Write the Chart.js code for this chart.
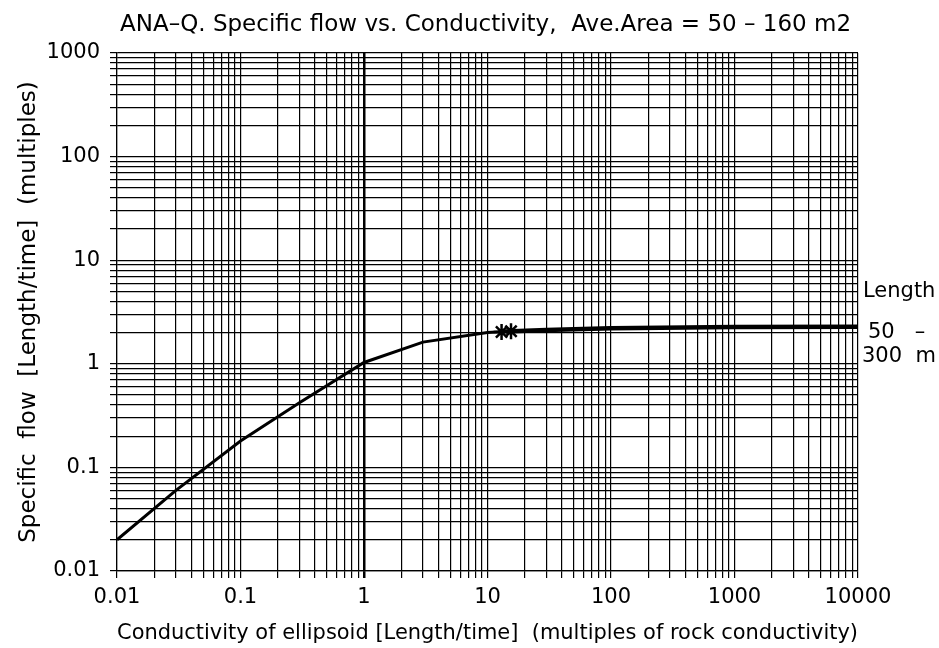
<!DOCTYPE html>
<html>
<head>
<meta charset="utf-8">
<script src="https://cdn.jsdelivr.net/npm/chart.js@4.4.1/dist/chart.umd.min.js"></script>
<style>
  html, body { margin: 0; padding: 0; background: #fff; }
  #wrap { width: 939px; height: 648px; }
</style>
</head>
<body>
<div id="wrap"><canvas id="chart"></canvas></div>
<script>
// curve: conductivity (x) -> specific flow (y)
const condLow = [0.01, 0.03, 0.1, 0.3, 1, 3, 10, 14];
const flowLow = [0.02, 0.06, 0.18, 0.42, 1.03, 1.62, 2.0, 2.05];
const condHigh = [14, 30, 100, 1000, 10000];
const flowHigh = [2.05, 2.12, 2.2, 2.26, 2.28];
const starCond = [13, 15.5];
const starFlow = [2.03, 2.06];

// axes
const xDecades = [0.01, 0.1, 1, 10, 100, 1000, 10000];
const xLabels = ['0.01', '0.1', '1', '10', '100', '1000', '10000'];
const yDecades = [0.01, 0.1, 1, 10, 100, 1000];
const yLabels = ['0.01', '0.1', '1', '10', '100', '1000'];
const steps = [1, 2, 3, 4, 5, 6, 7, 8, 9];

const titleText = 'ANA\u2013Q. Specific flow vs. Conductivity,  Ave.Area = 50 \u2013 160 m2';
const xTitle = 'Conductivity of ellipsoid [Length/time]  (multiples of rock conductivity)';
const yTitle = 'Specific  flow  [Length/time]  (multiples)';
const sideNote = ['Length', '50   \u2013', '300  m'];

const FONT = 'DejaVu Sans';

function gridValues(decades) {
  const vals = [];
  decades.slice(0, -1).forEach(d => steps.forEach(s => vals.push(+(d * s).toPrecision(6))));
  vals.push(decades[decades.length - 1]);
  return vals;
}
const xGrid = gridValues(xDecades);
const yGrid = gridValues(yDecades);

function labelFor(value, decades, labels) {
  const i = decades.findIndex(d => Math.abs(d - value) / d < 1e-6);
  return i >= 0 ? labels[i] : '';
}

const pts = (xs, ys) => xs.map((x, i) => ({x: x, y: ys[i]}));

// title and the note at the right end of the curve
const textPlugin = {
  id: 'texts',
  afterDraw(chart) {
    const c = chart.ctx;
    c.save();
    c.fillStyle = '#000';
    c.textBaseline = 'alphabetic';
    c.textAlign = 'left';
    c.font = '23px "' + FONT + '"';
    c.fillText(titleText, 120, 31);
    c.font = '21px "' + FONT + '"';
    c.fillText(sideNote[0], 863, 297);
    c.fillText(sideNote[1], 868, 338);
    c.fillText(sideNote[2], 862, 362);
    c.restore();
  }
};

new Chart(document.getElementById('chart'), {
  type: 'line',
  data: {
    datasets: [
      {data: pts(condLow, flowLow), borderColor: '#000', borderWidth: 3, pointRadius: 0, tension: 0},
      {data: pts(condHigh, flowHigh), borderColor: '#000', borderWidth: 4.5, pointRadius: 0, tension: 0},
      {data: pts(starCond, starFlow), showLine: false, pointStyle: 'star', pointRadius: 8,
       borderColor: '#000', pointBorderWidth: 2.5, backgroundColor: '#000'}
    ]
  },
  options: {
    responsive: true,
    maintainAspectRatio: false,
    animation: false,
    layout: {padding: {top: 53, right: 81, bottom: 0, left: 0}},
    plugins: {legend: {display: false}, tooltip: {enabled: false}, title: {display: false}},
    scales: {
      x: {
        type: 'logarithmic',
        min: 0.01, max: 10000,
        afterBuildTicks: axis => { axis.ticks = xGrid.map(v => ({value: v})); },
        afterFit: scale => { scale.height = 77; },
        grid: {
          color: '#000',
          lineWidth: ctx => (ctx.tick && Math.abs(ctx.tick.value - 1) < 1e-9 ? 2.5 : 1.2),
          tickLength: 7
        },
        border: {color: '#000', width: 1.2},
        ticks: {
          autoSkip: false, maxRotation: 0, minRotation: 0, padding: 7,
          color: '#000', font: {family: FONT, size: 21},
          callback: v => labelFor(v, xDecades, xLabels)
        },
        title: {display: true, text: xTitle, color: '#000', font: {family: FONT, size: 22},
                padding: {top: 0, bottom: 2}}
      },
      y: {
        type: 'logarithmic',
        min: 0.01, max: 1000,
        afterBuildTicks: axis => { axis.ticks = yGrid.map(v => ({value: v})); },
        afterFit: scale => { scale.width = 117; },
        grid: {color: '#000', lineWidth: 1.2, tickLength: 7},
        border: {color: '#000', width: 1.2},
        ticks: {
          autoSkip: false, padding: 10,
          color: '#000', font: {family: FONT, size: 21},
          callback: v => labelFor(v, yDecades, yLabels)
        },
        title: {display: true, text: yTitle, color: '#000', font: {family: FONT, size: 23},
                padding: {top: 15, bottom: 0}}
      }
    }
  },
  plugins: [textPlugin]
});
</script>
</body>
</html>
